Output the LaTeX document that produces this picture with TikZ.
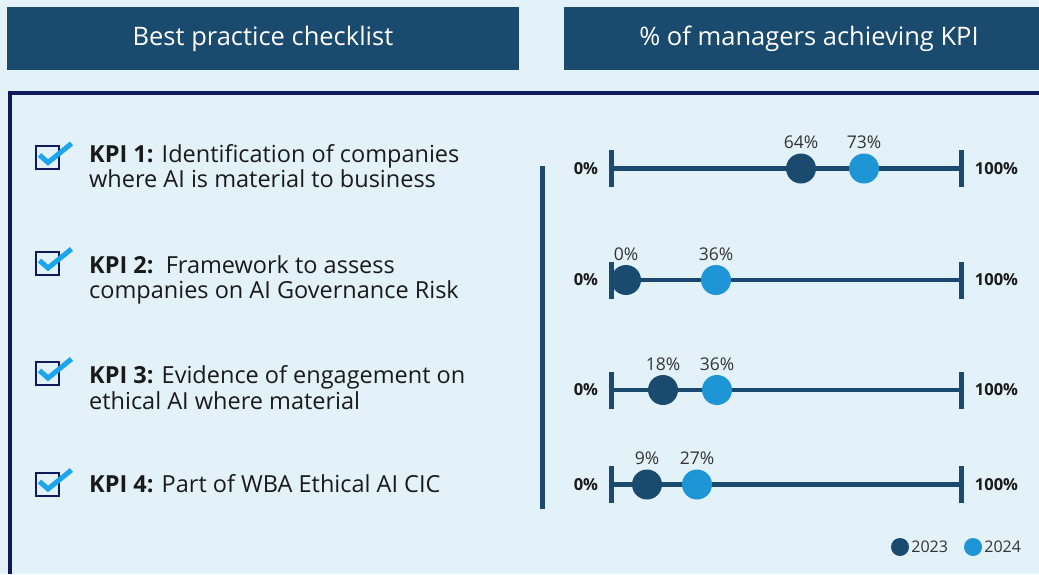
\documentclass[tikz,border=0pt]{standalone}
\usepackage{fontspec}
\setmainfont{Open Sans}
\usetikzlibrary{positioning}
\definecolor{kpsky}{HTML}{E3F1F9}
\definecolor{kpnavy}{HTML}{1A4A6E}
\definecolor{kpblue}{HTML}{1E96D6}
\definecolor{kpframe}{HTML}{0E1A5E}
\definecolor{kpcheckblue}{HTML}{1BA6EC}
\definecolor{kpink}{HTML}{1A1A1A}
\definecolor{kpgrey}{HTML}{333333}
\tikzset{
  kphead/.style={rectangle, fill=kpnavy, text=white, minimum height=63pt, inner sep=0pt, font=\fontsize{25.5}{29}\selectfont},
  kpframeline/.style={draw=kpframe, line width=4pt},
  kpbox/.style={rectangle, draw=kpframe, line width=2pt, minimum size=23pt, inner sep=0pt},
  kpcheck/.style={draw=kpcheckblue, line width=5pt},
  kpitem/.style={anchor=base west, align=left, inner sep=0pt, text=kpink, font=\fontsize{23.5}{25.5}\selectfont},
  kpsep/.style={draw=kpnavy, line width=5pt},
  kpaxis/.style={draw=kpnavy, line width=4.5pt},
  kptick/.style={rectangle, fill=kpnavy, minimum width=5pt, minimum height=37pt, inner sep=0pt},
  kpold/.style={circle, fill=kpnavy, minimum size=30pt, inner sep=0pt},
  kpnew/.style={kpold, fill=kpblue},
  kpval/.style={inner sep=0pt, text=kpgrey, font=\fontsize{17.5}{20}\selectfont},
  kpend/.style={inner sep=0pt, text=kpink, font=\fontsize{16.5}{19}\selectfont\bfseries},
  kpkey/.style={circle, fill=kpnavy, minimum size=18pt, inner sep=0pt},
  kpkeytext/.style={inner sep=0pt, text=kpgrey, font=\fontsize{16}{19}\selectfont},
}
\begin{document}
\begin{tikzpicture}[x=1pt, y=-1pt]
  \useasboundingbox (0,0) rectangle (1039,574);
  \fill[kpsky] (0,0) rectangle (1039,574);

  % Column headers and outer frame.
  \node[kphead, minimum width=512pt] (hcheck) at (263,38.5) {Best practice checklist};
  \node[kphead, minimum width=490pt] (hkpi) at (809,38.5) {\% of managers achieving KPI};
  \draw[kpframeline] (9.5,574) |- (1039,92.5);

  % Checklist items (anchored on the baseline of the last line).
  \node[kpbox] (b1) at (47.5,157.5) {};
  \node[kpbox] (b2) at (47.5,263) {};
  \node[kpbox] (b3) at (47.5,373) {};
  \node[kpbox] (b4) at (47.5,484) {};
  \draw[kpcheck] ([shift={(-8,-2.5)}]b1.center) -- ([shift={(0.5,5)}]b1.center) -- ([shift={(24,-14)}]b1.center);
  \draw[kpcheck] ([shift={(-8,-2.5)}]b2.center) -- ([shift={(0.5,5)}]b2.center) -- ([shift={(24,-14)}]b2.center);
  \draw[kpcheck] ([shift={(-8,-2.5)}]b3.center) -- ([shift={(0.5,5)}]b3.center) -- ([shift={(24,-14)}]b3.center);
  \draw[kpcheck] ([shift={(-8,-2.5)}]b4.center) -- ([shift={(0.5,5)}]b4.center) -- ([shift={(24,-14)}]b4.center);

  \node[kpitem] (k1) at (89,187.5) {\textbf{KPI 1:} Identification of companies\\where AI is material to business};
  \node[kpitem] (k2) at (89,298.5) {\textbf{KPI 2:}\ \ Framework to assess\\companies on AI Governance Risk};
  \node[kpitem] (k3) at (89,409) {\textbf{KPI 3:} Evidence of engagement on\\ethical AI where material};
  \node[kpitem] (k4) at (89,492) {\textbf{KPI 4:} Part of WBA Ethical AI CIC};

  % Divider between the two columns.
  \coordinate (sept) at (542.5,166);
  \coordinate (sepb) at (542.5,509);
  \draw[kpsep] (sept) -- (sepb);

  % Axes 0% to 100%.
  \coordinate (a1l) at (611,168.5);
  \coordinate (a1r) at (961,168.5);
  \coordinate (a2l) at (611,280);
  \coordinate (a2r) at (961,280);
  \coordinate (a3l) at (611,390);
  \coordinate (a3r) at (961,390);
  \coordinate (a4l) at (611,484.5);
  \coordinate (a4r) at (961,484.5);
  \draw[kpaxis] (a1l) -- (a1r);
  \draw[kpaxis] (a2l) -- (a2r);
  \draw[kpaxis] (a3l) -- (a3r);
  \draw[kpaxis] (a4l) -- (a4r);

  \node[kptick] (t1l) at (a1l) {};
  \node[kptick] (t1r) at (a1r) {};
  \node[kptick] (t2l) at (a2l) {};
  \node[kptick] (t2r) at (a2r) {};
  \node[kptick] (t3l) at (a3l) {};
  \node[kptick] (t3r) at (a3r) {};
  \node[kptick] (t4l) at (a4l) {};
  \node[kptick] (t4r) at (a4r) {};

  \node[kpend, left=10pt of t1l] (e1l) {0\%};
  \node[kpend, right=11pt of t1r] (e1r) {100\%};
  \node[kpend, left=10pt of t2l] (e2l) {0\%};
  \node[kpend, right=11pt of t2r] (e2r) {100\%};
  \node[kpend, left=10pt of t3l] (e3l) {0\%};
  \node[kpend, right=11pt of t3r] (e3r) {100\%};
  \node[kpend, left=10pt of t4l] (e4l) {0\%};
  \node[kpend, right=11pt of t4r] (e4r) {100\%};

  % 2023 and 2024 results.
  \node[kpold] (d1old) at (801,168.5) {};
  \node[kpnew] (d1new) at (864,168.5) {};
  \node[kpold] (d2old) at (626,280) {};
  \node[kpnew] (d2new) at (716,280) {};
  \node[kpold] (d3old) at (663,390) {};
  \node[kpnew] (d3new) at (717,390) {};
  \node[kpold] (d4old) at (647,484.5) {};
  \node[kpnew] (d4new) at (697,484.5) {};

  \node[kpval, above=4pt of d1old] (v1old) {64\%};
  \node[kpval, above=4pt of d1new] (v1new) {73\%};
  \node[kpval, above=4pt of d2old] (v2old) {0\%};
  \node[kpval, above=4pt of d2new] (v2new) {36\%};
  \node[kpval, above=4pt of d3old] (v3old) {18\%};
  \node[kpval, above=4pt of d3new] (v3new) {36\%};
  \node[kpval, above=4pt of d4old] (v4old) {9\%};
  \node[kpval, above=4pt of d4new] (v4new) {27\%};

  % Legend.
  \node[kpkey] (l23) at (900,547) {};
  \node[kpkeytext, right=2pt of l23] (l23t) {2023};
  \node[kpkey, fill=kpblue] (l24) at (973,547) {};
  \node[kpkeytext, right=2pt of l24] (l24t) {2024};
\end{tikzpicture}
\end{document}
